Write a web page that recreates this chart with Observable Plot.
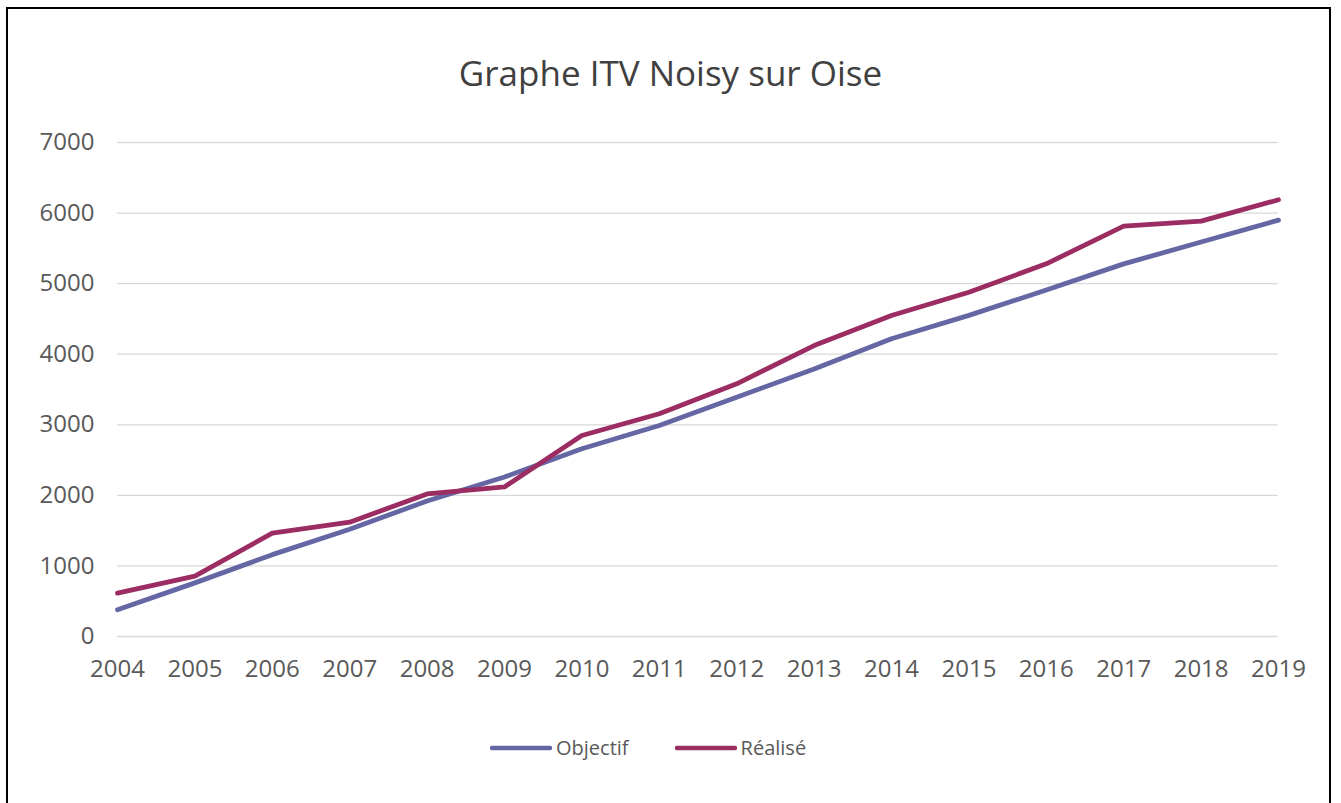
<!DOCTYPE html>
<html>
<head>
<meta charset="utf-8">
<script src="https://cdn.jsdelivr.net/npm/d3@7"></script>
<script src="https://cdn.jsdelivr.net/npm/@observablehq/plot@0.6"></script>
<style>
  html, body { margin: 0; padding: 0; background: #fff; }
  #wrap { position: relative; width: 1341px; height: 803px; overflow: hidden; font-family: "Open Sans", sans-serif; }
  #frame { position: absolute; left: 6px; top: 7px; width: 1325px; height: 820px; border: 2px solid #000; box-sizing: border-box; }
  #title { position: absolute; left: 0; width: 1341px; top: 49px; text-align: center; font-size: 35px; color: #404040; }
  #chart { position: absolute; left: 0; top: 0; }
  #legend { position: absolute; left: 490px; top: 734px; display: flex; gap: 46px; font-size: 20px; color: #595959; }
  #legend .item { display: flex; align-items: center; gap: 4px; }
</style>
</head>
<body>
<div id="wrap">
  <div id="frame"></div>
  <div id="chart"></div>
  <div id="title">Graphe ITV Noisy sur Oise</div>
  <div id="legend"></div>
</div>
<script>
const years = [2004, 2005, 2006, 2007, 2008, 2009, 2010, 2011, 2012, 2013, 2014, 2015, 2016, 2017, 2018, 2019];
const objectif = [380, 760, 1160, 1520, 1920, 2260, 2660, 2990, 3390, 3790, 4220, 4550, 4910, 5280, 5590, 5900];
const realise = [614, 855, 1464, 1620, 2020, 2120, 2848, 3156, 3581, 4123, 4549, 4879, 5281, 5814, 5885, 6188];
const seriesNames = ["Objectif", "Réalisé"];
const seriesColors = ["#6567a4", "#9b2d62"];
const yTicks = [0, 1000, 2000, 3000, 4000, 5000, 6000, 7000];

const data = [];
years.forEach((y, i) => {
  data.push({year: y, value: objectif[i], series: seriesNames[0]});
  data.push({year: y, value: realise[i], series: seriesNames[1]});
});

const plot = Plot.plot({
  width: 1341,
  height: 700,
  marginLeft: 117,
  marginRight: 63,
  marginTop: 142,
  marginBottom: 64,
  style: {fontFamily: "Open Sans, sans-serif", fontSize: "24px", color: "#595959", background: "transparent"},
  x: {domain: [2004, 2019], ticks: years, tickFormat: d => String(d), label: null},
  y: {domain: [0, 7000], ticks: yTicks, tickFormat: d => String(d), label: null},
  color: {domain: seriesNames, range: seriesColors},
  marks: [
    Plot.gridY(yTicks, {stroke: "#d9d9d9", strokeOpacity: 1, strokeWidth: 1.3}),
    Plot.axisX({ticks: years, tickSize: 0, tickPadding: 23, tickFormat: d => String(d), label: null, fill: "#595959"}),
    Plot.axisY({ticks: yTicks, tickSize: 0, tickPadding: 23, tickFormat: d => String(d), label: null, fill: "#595959"}),
    Plot.line(data, {x: "year", y: "value", stroke: "series", z: "series", strokeWidth: 4.8, strokeLinejoin: "round", strokeLinecap: "round"})
  ]
});
document.getElementById("chart").appendChild(plot);

const legend = document.getElementById("legend");
seriesNames.forEach((name, i) => {
  const item = document.createElement("div");
  item.className = "item";
  item.innerHTML = `<svg width="62" height="8"><line x1="2" y1="4" x2="60" y2="4" stroke="${seriesColors[i]}" stroke-width="4.5" stroke-linecap="round"/></svg><span>${name}</span>`;
  legend.appendChild(item);
});
</script>
</body>
</html>
